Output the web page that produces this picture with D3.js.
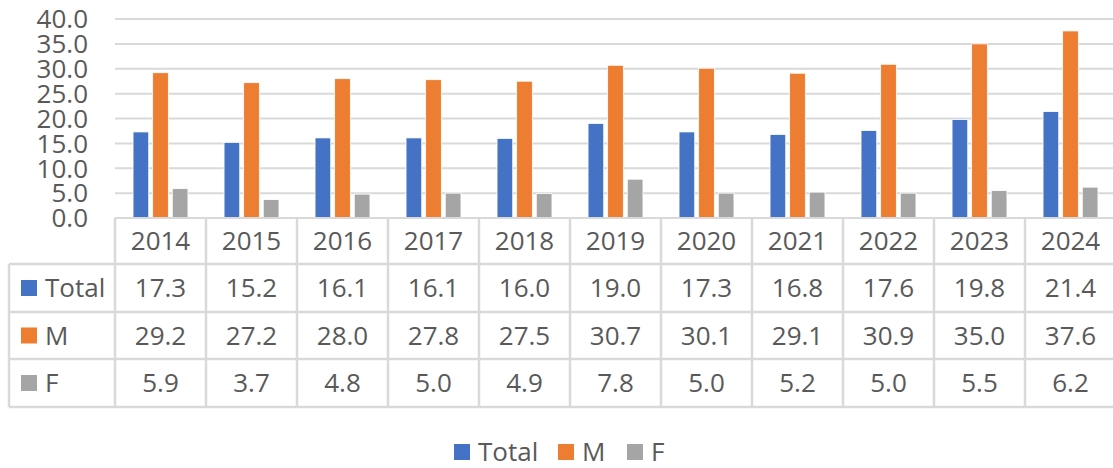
<!DOCTYPE html>
<html>
<head>
<meta charset="utf-8">
<title>Chart</title>
<style>
  body{margin:0;background:#fff;}
  svg text{font-family:"Open Sans",sans-serif;fill:#595959;}
</style>
<script src="https://cdn.jsdelivr.net/npm/d3@7"></script>
</head>
<body>
<svg id="chart" width="1113" height="468"></svg>
<script>
var years   = ["2014","2015","2016","2017","2018","2019","2020","2021","2022","2023","2024"];
var total   = [17.3, 15.2, 16.1, 16.1, 16.0, 19.0, 17.3, 16.8, 17.6, 19.8, 21.4];
var male    = [29.2, 27.2, 28.0, 27.8, 27.5, 30.7, 30.1, 29.1, 30.9, 35.0, 37.6];
var female  = [5.9, 3.7, 4.8, 5.0, 4.9, 7.8, 5.0, 5.2, 5.0, 5.5, 6.2];
var seriesNames = ["Total", "M", "F"];
var yTicks  = [0, 5, 10, 15, 20, 25, 30, 35, 40];

var colors = {"Total":"#4472C4", "M":"#ED7D31", "F":"#A5A5A5"};
var seriesVals = {"Total": total, "M": male, "F": female};

var svg = d3.select('#chart');
var plotLeft = 115, plotRight = 1116, plotTop = 19, plotBase = 218;
var rowEdges = [218, 264, 312, 359, 407];
var tableLeft = 9;
var gridColor = '#D9D9D9';

var x0 = d3.scaleBand().domain(years).range([plotLeft, plotRight]).padding(0);
var x1 = d3.scaleBand().domain(seriesNames).range([0, x0.bandwidth()])
    .paddingInner(0.2).paddingOuter(0.92);
var y = d3.scaleLinear().domain([0, 40]).range([plotBase, plotTop]);

// gridlines
svg.append('g').selectAll('line').data(yTicks.filter(function(d){return d>0}))
  .enter().append('line')
  .attr('x1', plotLeft).attr('x2', plotRight)
  .attr('y1', function(d){return y(d)}).attr('y2', function(d){return y(d)})
  .attr('stroke', gridColor).attr('stroke-width', 2);

// y labels
svg.append('g').selectAll('text').data(yTicks).enter().append('text')
  .attr('x', 88).attr('y', function(d){return y(d)})
  .attr('dy', '0.36em')
  .attr('text-anchor', 'end')
  .style('font-size', '26px')
  .text(function(d){return d.toFixed(1)});

// bars
var groups = svg.append('g').selectAll('g').data(years).enter().append('g')
  .attr('transform', function(d){return 'translate(' + x0(d) + ',0)'});

groups.selectAll('rect').data(function(d, i){
    return seriesNames.map(function(s){return {s:s, v:seriesVals[s][i]}});
  }).enter().append('rect')
  .attr('x', function(d){return x1(d.s)})
  .attr('width', x1.bandwidth())
  .attr('y', function(d){return y(d.v)})
  .attr('height', function(d){return plotBase - y(d.v)})
  .attr('fill', function(d){return colors[d.s]})
  .attr('stroke', '#fff').attr('stroke-width', 0.8);

// data table
var table = svg.append('g');
table.append('line').attr('x1', plotLeft).attr('x2', plotRight)
  .attr('y1', rowEdges[0]).attr('y2', rowEdges[0])
  .attr('stroke', gridColor).attr('stroke-width', 2);
rowEdges.slice(1).forEach(function(yy){
  table.append('line').attr('x1', tableLeft).attr('x2', plotRight)
    .attr('y1', yy).attr('y2', yy)
    .attr('stroke', gridColor).attr('stroke-width', 2.5);
});
years.forEach(function(d){
  table.append('line').attr('x1', x0(d)).attr('x2', x0(d))
    .attr('y1', rowEdges[0]).attr('y2', rowEdges[4])
    .attr('stroke', gridColor).attr('stroke-width', 2.5);
});
table.append('line').attr('x1', plotRight - 1).attr('x2', plotRight - 1)
  .attr('y1', rowEdges[0]).attr('y2', rowEdges[4])
  .attr('stroke', gridColor).attr('stroke-width', 2.5);
table.append('line').attr('x1', tableLeft).attr('x2', tableLeft)
  .attr('y1', rowEdges[1]).attr('y2', rowEdges[4])
  .attr('stroke', gridColor).attr('stroke-width', 2.5);

// header
table.selectAll('.yr').data(years).enter().append('text')
  .attr('x', function(d){return x0(d) + x0.bandwidth()/2})
  .attr('y', (rowEdges[0] + rowEdges[1])/2)
  .attr('dy', '0.36em').attr('text-anchor', 'middle')
  .style('font-size', '26px')
  .text(function(d){return d});

// rows
seriesNames.forEach(function(s, r){
  var cy = (rowEdges[r+1] + rowEdges[r+2])/2;
  table.append('rect').attr('x', 21).attr('y', cy - 8).attr('width', 16).attr('height', 16)
    .attr('fill', colors[s]);
  table.append('text').attr('x', 45).attr('y', cy).attr('dy', '0.36em')
    .style('font-size', '26px').text(s);
  table.selectAll('.v' + r).data(seriesVals[s]).enter().append('text')
    .attr('x', function(d, i){return x0(years[i]) + x0.bandwidth()/2})
    .attr('y', cy).attr('dy', '0.36em').attr('text-anchor', 'middle')
    .style('font-size', '26px')
    .text(function(d){return d.toFixed(1)});
});

// legend
var legendX = [454, 558, 627];
var legend = svg.append('g').selectAll('g').data(seriesNames).enter().append('g')
  .attr('transform', function(d, i){return 'translate(' + legendX[i] + ',452)'});
legend.append('rect').attr('x', 0).attr('y', -8).attr('width', 16).attr('height', 16)
  .attr('fill', function(d){return colors[d]});
legend.append('text').attr('x', 24).attr('dy', '0.36em')
  .style('font-size', '26px').text(function(d){return d});
</script>
</body>
</html>
